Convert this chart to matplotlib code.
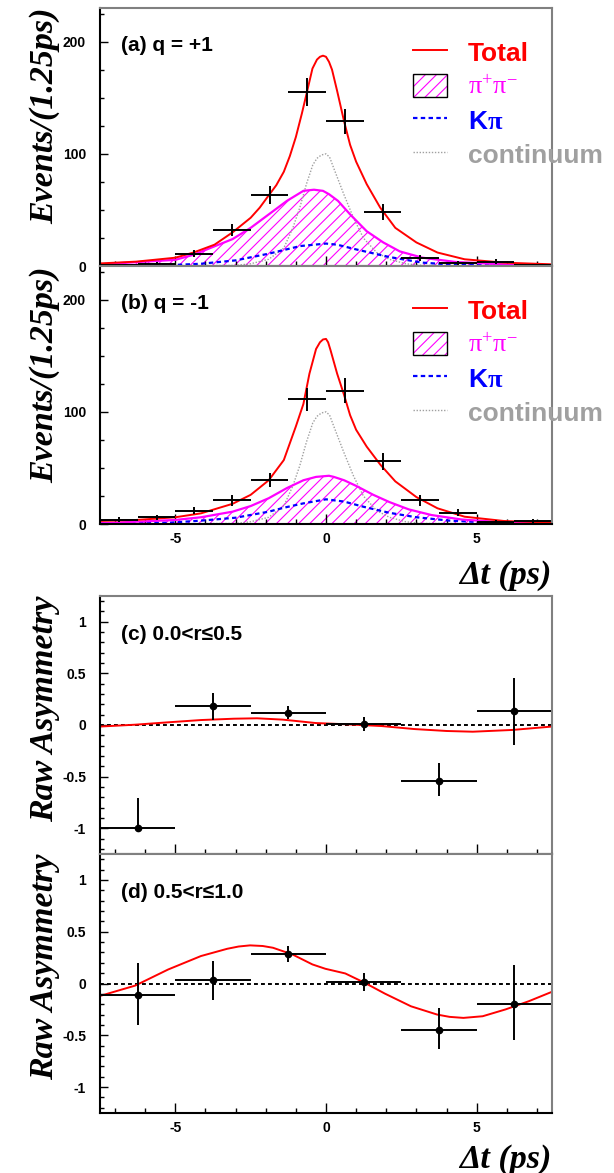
import matplotlib
matplotlib.use("Agg")
import matplotlib.pyplot as plt
from matplotlib.lines import Line2D
from matplotlib.patches import Patch
from matplotlib.legend_handler import HandlerTuple
from matplotlib.ticker import MultipleLocator, FuncFormatter

plt.rcParams['font.family'] = ['Liberation Sans', 'DejaVu Sans']
plt.rcParams['mathtext.fontset'] = 'custom'
plt.rcParams['mathtext.rm'] = 'Liberation Serif'
plt.rcParams['mathtext.bf'] = 'Liberation Serif:bold'
plt.rcParams['mathtext.it'] = 'Liberation Serif:italic'
plt.rcParams['hatch.linewidth'] = 0.8

# --- event histograms (bin width 1.25 ps) ---
bin_centers = [-6.875, -5.625, -4.375, -3.125, -1.875, -0.625,
               0.625, 1.875, 3.125, 4.375, 5.625, 6.875]
n_plus = [1, 2, 11, 32, 63, 155, 129, 48, 7, 3, 4, 1]
err_plus = [1.0, 1.4, 3.3, 5.7, 7.9, 12.4, 11.4, 6.9, 2.6, 1.7, 2.0, 1.0]
n_minus = [4, 6, 12, 21, 39, 111, 119, 56, 21, 10, 2, 3]
err_minus = [2.0, 2.4, 3.5, 4.6, 6.2, 10.5, 10.9, 7.5, 4.6, 3.2, 1.4, 1.7]

# --- fit curves, q = +1 ---
tot_p_x = [-7.5, -6.3, -5.0, -4.4, -3.7, -3.1, -2.5, -2.2, -1.9, -1.65, -1.4,
           -1.2, -1.0, -0.8, -0.65, -0.45, -0.3, -0.2, -0.1, 0.0, 0.1, 0.2,
           0.37, 0.6, 0.8, 1.0, 1.35, 1.8, 2.3, 3.0, 3.7, 4.6, 5.9, 7.5]
tot_p_y = [2.3, 3.9, 7.4, 12, 19, 30, 43, 52, 63, 72, 84, 98, 115, 136, 153,
           176, 184, 186.5, 187.5, 186.5, 182, 175, 156, 129, 108, 93, 73, 52,
           34, 21, 12, 6, 3, 1.5]
pp_p_x = [-7.5, -5.0, -4.4, -3.1, -2.5, -1.9, -1.3, -0.75, -0.4, -0.1, 0.1,
          0.4, 0.8, 1.35, 1.9, 2.45, 3.2, 4.3, 5.9, 7.5]
pp_p_y = [1.5, 5.5, 10, 24, 34, 46, 58, 67, 68, 67, 64, 58, 46, 31, 21, 13,
          7.4, 3.6, 1.5, 0.6]
kpi_p_x = [-7.5, -5.0, -4.15, -3.0, -1.9, -0.85, 0.0, 0.37, 1.0, 2.1, 3.2,
           4.3, 5.5, 7.5]
kpi_p_y = [0.5, 1, 2, 5, 11, 17.8, 20, 19, 14.8, 8, 3, 1, 0.5, 0.3]

# --- fit curves, q = -1 ---
tot_m_x = [-7.5, -6.3, -5.0, -4.15, -3.1, -2.5, -1.9, -1.4, -1.0, -0.75,
           -0.55, -0.33, -0.2, -0.1, 0.0, 0.07, 0.15, 0.37, 0.6, 0.8, 1.0,
           1.35, 1.8, 2.3, 3.0, 3.7, 4.6, 5.9, 7.5]
tot_m_y = [2.7, 3.6, 6, 9.5, 18, 26, 39, 57, 87, 107, 134, 156, 162, 164.5,
           165, 162, 155, 134, 115, 97, 84, 69, 53, 38, 24, 14, 6.5, 2.7, 1.2]
pp_m_x = [-7.5, -5.0, -4.15, -3.1, -2.5, -1.9, -1.3, -0.75, -0.33, 0.1, 0.26,
          0.6, 1.0, 1.57, 2.1, 2.75, 3.5, 4.5, 5.9, 7.5]
pp_m_y = [0.6, 3.6, 6, 11, 16, 23, 32, 39, 42, 43, 42, 39, 34, 26, 19.6, 13,
          8, 4, 1.5, 0.6]
kpi_m_x = [-7.5, -5.2, -4.15, -3.0, -1.9, -1.4, -0.75, 0.0, 0.6, 1.24, 2.1,
           3.0, 4.1, 5.5, 7.5]
kpi_m_y = [0.6, 1.2, 3, 5.6, 11, 14.5, 18.4, 22, 20, 15.4, 10, 6, 3, 1.2, 0.5]

# continuum (same in both charges)
cont_x = [-7.5, -3.0, -2.5, -1.9, -1.4, -1.1, -0.87, -0.65, -0.44, -0.3,
          -0.15, 0.0, 0.12, 0.26, 0.59, 0.91, 1.24, 1.68, 2.1, 2.65, 3.2, 7.5]
cont_y = [0, 0.5, 2, 6, 16, 34, 52, 73, 90, 96, 99, 100, 97, 87, 64, 43, 25,
          12, 6, 2, 0.5, 0]

# --- raw asymmetry (bin width 2.5 ps) ---
asym_x = [-6.25, -3.75, -1.25, 1.25, 3.75, 6.25]
asym_c = [-1.0, 0.18, 0.12, 0.01, -0.54, 0.14]
asym_c_lo = [0.0, 0.13, 0.06, 0.065, 0.15, 0.33]
asym_c_hi = [0.29, 0.13, 0.06, 0.065, 0.17, 0.32]
asym_d = [-0.115, 0.035, 0.287, 0.013, -0.445, -0.2]
asym_d_lo = [0.29, 0.19, 0.08, 0.087, 0.19, 0.35]
asym_d_hi = [0.31, 0.18, 0.075, 0.09, 0.21, 0.38]

fit_c_x = [-7.5, -6.33, -5.24, -4.15, -3.06, -2.29, -1.43, -0.34, 0.75, 1.84,
           2.92, 4.0, 4.87, 6.18, 7.5]
fit_c_y = [-0.015, 0.003, 0.026, 0.048, 0.061, 0.065, 0.052, 0.019, 0.006,
           -0.01, -0.039, -0.058, -0.065, -0.048, -0.015]
fit_d_x = [-7.5, -6.33, -5.24, -4.15, -3.28, -2.9, -2.52, -2.1, -1.76, -1.11,
           -0.45, -0.02, 0.64, 1.29, 1.95, 2.82, 3.69, 4.1, 4.56, 5.2, 5.96,
           6.73, 7.5]
fit_d_y = [-0.12, -0.02, 0.135, 0.265, 0.335, 0.357, 0.368, 0.362, 0.345,
           0.28, 0.184, 0.142, 0.097, 0.006, -0.097, -0.22, -0.3, -0.322,
           -0.332, -0.316, -0.25, -0.171, -0.08]

W, H = 614, 1173
fig = plt.figure(figsize=(W / 100, H / 100), dpi=100)


def make_axes(top, bottom):
	return fig.add_axes([100 / W, 1 - bottom / H, 452 / W, (bottom - top) / H])


fmt = FuncFormatter(lambda v, p: '0' if abs(v) < 1e-9 else '%g' % v)
serif = dict(family='Liberation Serif', weight='bold', style='italic', size=24.5)


def style(ax, ymaj, ymin, ylim, xlabels):
	ax.set_xlim(-7.5, 7.5)
	ax.set_ylim(*ylim)
	ax.xaxis.set_major_locator(MultipleLocator(5))
	ax.xaxis.set_minor_locator(MultipleLocator(1))
	ax.yaxis.set_major_locator(MultipleLocator(ymaj))
	ax.yaxis.set_minor_locator(MultipleLocator(ymin))
	ax.xaxis.set_major_formatter(fmt)
	ax.yaxis.set_major_formatter(fmt)
	ax.tick_params(which='both', direction='in', top=False, right=False, width=1)
	ax.tick_params(axis='y', which='major', length=6, pad=10)
	ax.tick_params(axis='y', which='minor', length=3)
	ax.tick_params(axis='x', which='major', length=7, pad=6)
	ax.tick_params(axis='x', which='minor', length=3.5)
	ax.tick_params(labelsize=10)
	ax.tick_params(axis='x', labelbottom=xlabels)
	for lab in ax.get_xticklabels() + ax.get_yticklabels():
		lab.set_fontweight('bold')
	for s in ('left', 'bottom'):
		ax.spines[s].set_color('black')
		ax.spines[s].set_linewidth(1.5)
	for s in ('top', 'right'):
		ax.spines[s].set_color('#808080')
		ax.spines[s].set_linewidth(1.5)


def events_panel(ax, n, err, tot_x, tot_y, pp_x, pp_y, k_x, k_y, title):
	ax.fill_between(pp_x, 0, pp_y, facecolor='none', edgecolor='magenta',
	                hatch='///', linewidth=0)
	ax.plot(cont_x, cont_y, color='#a0a0a0', lw=1, ls=(0, (1, 1.2)))
	ax.plot(k_x, k_y, color='blue', lw=1.6, ls=(0, (2, 1.5)))
	ax.plot(pp_x, pp_y, color='magenta', lw=1.6)
	ax.plot(tot_x, tot_y, color='red', lw=1.4)
	ax.errorbar(bin_centers, n, xerr=0.625, yerr=err, fmt='none',
	            ecolor='black', elinewidth=1.4, capsize=0)
	style(ax, 100, 25, (0, 230), xlabels=False)
	ax.text(0.046, 0.855, title, transform=ax.transAxes, fontsize=15,
	        fontweight='bold', va='center', ha='left')
	ax.set_ylabel('Events/(1.25ps)', fontdict=serif, loc='top')
	ax.yaxis.set_label_coords(-0.089, 1.0)
	handles = [
		Line2D([], [], color='red', lw=1.4),
		(Patch(facecolor='white', edgecolor='magenta', hatch='///', lw=0),
		 Patch(facecolor='none', edgecolor='black', lw=1)),
		Line2D([], [], color='blue', lw=1.6, ls=(0, (2, 1.5))),
		Line2D([], [], color='#a0a0a0', lw=1, ls=(0, (1, 1.2))),
	]
	labels = ['Total', r'$\mathrm{\pi^{+}\pi^{-}}$', r'K$\mathbf{\pi}$', 'continuum']
	ax.legend(handles, labels, loc='upper left', bbox_to_anchor=(0.692, 0.875),
	          frameon=False, borderpad=0, borderaxespad=0,
	          prop=dict(weight='bold', size=19),
	          handlelength=1.28, handleheight=0.93, handletextpad=0.8,
	          labelspacing=0.33,
	          labelcolor=['red', 'magenta', 'blue', '#a0a0a0'],
	          handler_map={tuple: HandlerTuple(ndivide=1, pad=0)})


def asym_panel(ax, a, lo, hi, fx, fy, title, xlabels):
	ax.axhline(0, color='black', lw=1.4, ls=(0, (2, 1.6)))
	ax.plot(fx, fy, color='red', lw=1.4)
	ax.errorbar(asym_x, a, xerr=1.25, yerr=[lo, hi], fmt='o', ms=4.5,
	            color='black', ecolor='black', elinewidth=1.4, capsize=0)
	style(ax, 0.5, 0.1, (-1.25, 1.25), xlabels=xlabels)
	ax.text(0.046, 0.85, title, transform=ax.transAxes, fontsize=15,
	        fontweight='bold', va='center', ha='left')
	ax.set_ylabel('Raw Asymmetry', fontdict=serif, loc='top')
	ax.yaxis.set_label_coords(-0.089, 1.0)


ax_a = make_axes(8, 266)
events_panel(ax_a, n_plus, err_plus, tot_p_x, tot_p_y, pp_p_x, pp_p_y,
             kpi_p_x, kpi_p_y, '(a) q = +1')

ax_b = make_axes(266, 524)
events_panel(ax_b, n_minus, err_minus, tot_m_x, tot_m_y, pp_m_x, pp_m_y,
             kpi_m_x, kpi_m_y, '(b) q = -1')
ax_b.tick_params(axis='x', labelbottom=True)
for lab in ax_b.get_xticklabels():
	lab.set_fontweight('bold')
ax_b.set_xlabel('\u0394t (ps)', fontdict=serif, loc='right')
ax_b.xaxis.set_label_coords(1.0, -0.2)
ax_b.xaxis.label.set_va('center')

ax_c = make_axes(596, 854)
asym_panel(ax_c, asym_c, asym_c_lo, asym_c_hi, fit_c_x, fit_c_y,
           '(c) 0.0<r\u22640.5', xlabels=False)

ax_d = make_axes(854, 1113)
asym_panel(ax_d, asym_d, asym_d_lo, asym_d_hi, fit_d_x, fit_d_y,
           '(d) 0.5<r\u22641.0', xlabels=True)
ax_d.set_xlabel('\u0394t (ps)', fontdict=serif, loc='right')
ax_d.xaxis.set_label_coords(1.0, -0.18)
ax_d.xaxis.label.set_va('center')

fig.savefig('out.png', dpi=100)
